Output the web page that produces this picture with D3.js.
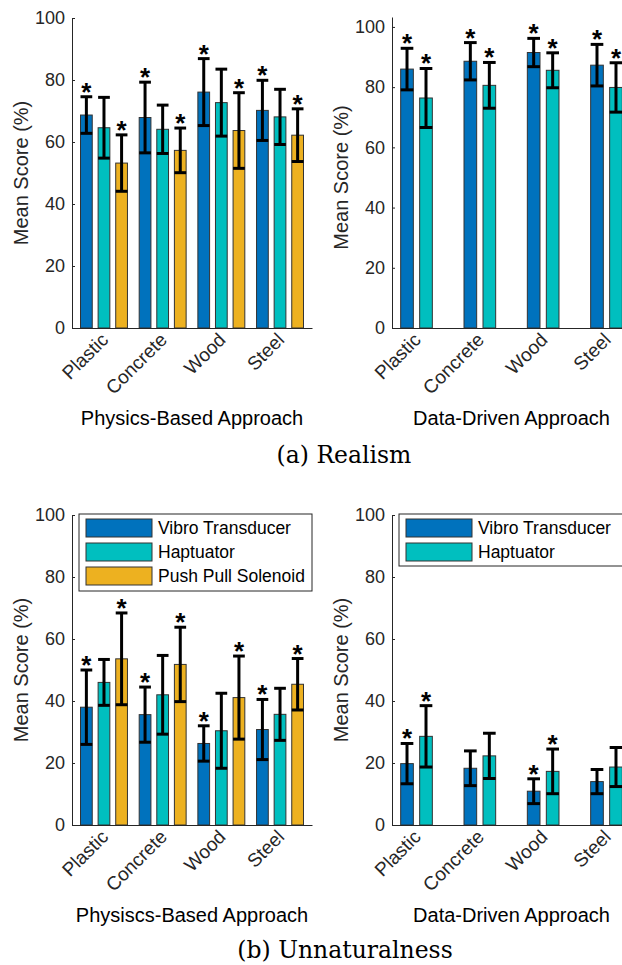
<!DOCTYPE html>
<html>
<head>
<meta charset="utf-8">
<script src="https://cdn.jsdelivr.net/npm/d3@7"></script>
<style>
  html, body { margin: 0; padding: 0; background: #fff; }
  svg { display: block; }
</style>
</head>
<body>
<svg id="chart" width="622" height="965"></svg>
<script>
// --- data ---
const materials = ['Plastic', 'Concrete', 'Wood', 'Steel'];
const devices = ['Vibro Transducer', 'Haptuator', 'Push Pull Solenoid'];
const deviceColors = ['#0072BD', '#00BFBF', '#EDB120'];
const yTicks = [0, 20, 40, 60, 80, 100];

// rows = material, cols = device
const realismPhysMean = [[68.7, 64.6, 53.2], [67.9, 64.1, 57.3], [76.1, 72.7, 63.7], [70.2, 68.1, 62.2]];
const realismPhysErr  = [[5.9, 9.8, 9.1], [11.4, 7.8, 7.2], [10.8, 10.8, 12.2], [9.7, 8.9, 8.5]];
const realismPhysSig  = [[1, 0, 1], [1, 0, 1], [1, 0, 1], [1, 0, 1]];

const realismDataMean = [[86.0, 76.4], [88.6, 80.6], [91.5, 85.6], [87.3, 79.9]];
const realismDataErr  = [[6.9, 9.8], [6.2, 7.6], [4.7, 5.8], [6.9, 8.2]];
const realismDataSig  = [[1, 1], [1, 1], [1, 1], [1, 1]];

const unnatPhysMean = [[38.0, 46.0, 53.6], [35.6, 42.0, 51.8], [26.3, 30.4, 41.1], [30.8, 35.7, 45.4]];
const unnatPhysErr  = [[12.0, 7.4, 14.8], [8.9, 12.7, 12.0], [5.7, 12.1, 13.4], [9.7, 8.4, 8.3]];
const unnatPhysSig  = [[1, 0, 1], [1, 0, 1], [1, 0, 1], [1, 0, 1]];

const unnatDataMean = [[19.8, 28.6], [18.3, 22.3], [10.9, 17.3], [14.0, 18.7]];
const unnatDataErr  = [[6.5, 9.9], [5.6, 7.3], [4.0, 7.2], [3.9, 6.3]];
const unnatDataSig  = [[1, 1], [0, 0], [1, 1], [0, 0]];

// --- layout ---
const svg = d3.select('#chart');
const AXIS_COLOR = '#262626';
const SANS = '"Liberation Sans", Arial, Helvetica, sans-serif';

const panels = [
  { x0: 72, x1: 312, yBot: 328, yTop: 18, yMax: 100, xDom: [0.455, 4.545],
    mean: realismPhysMean, err: realismPhysErr, sig: realismPhysSig, xlabel: 'Physics-Based Approach', legend: false },
  { x0: 392, x1: 631, yBot: 328, yTop: 17, yMax: 103.3, xDom: [0.613, 4.387],
    mean: realismDataMean, err: realismDataErr, sig: realismDataSig, xlabel: 'Data-Driven Approach', legend: false },
  { x0: 72, x1: 312, yBot: 825, yTop: 515, yMax: 100, xDom: [0.455, 4.545],
    mean: unnatPhysMean, err: unnatPhysErr, sig: unnatPhysSig, xlabel: 'Physiscs-Based Approach', legend: true },
  { x0: 392, x1: 631, yBot: 825, yTop: 515, yMax: 100, xDom: [0.613, 4.387],
    mean: unnatDataMean, err: unnatDataErr, sig: unnatDataSig, xlabel: 'Data-Driven Approach', legend: true }
];

function drawPanel(p) {
  const nSeries = p.mean[0].length;
  const x = d3.scaleLinear().domain(p.xDom).range([p.x0, p.x1]);
  const y = d3.scaleLinear().domain([0, p.yMax]).range([p.yBot, p.yTop]);
  const barW = 0.2;
  const step = 0.3;
  const offs = d3.range(nSeries).map(i => (i - (nSeries - 1) / 2) * step);

  const g = svg.append('g');

  // bars
  materials.forEach((m, mi) => {
    for (let s = 0; s < nSeries; s++) {
      const cx = mi + 1 + offs[s];
      const v = p.mean[mi][s];
      g.append('rect')
        .attr('x', x(cx - barW / 2))
        .attr('y', y(v))
        .attr('width', x(cx + barW / 2) - x(cx - barW / 2))
        .attr('height', y(0) - y(v))
        .attr('fill', deviceColors[s])
        .attr('stroke', '#333')
        .attr('stroke-width', 1);
    }
  });

  // error bars and significance stars
  materials.forEach((m, mi) => {
    for (let s = 0; s < nSeries; s++) {
      const cx = mi + 1 + offs[s];
      const v = p.mean[mi][s], e = p.err[mi][s];
      const xl = x(cx - barW / 2), xr = x(cx + barW / 2), xc = x(cx);
      const eb = g.append('g').attr('stroke', '#000').attr('stroke-width', 3);
      eb.append('line').attr('x1', xc).attr('x2', xc).attr('y1', y(v - e)).attr('y2', y(v + e));
      eb.append('line').attr('x1', xl).attr('x2', xr).attr('y1', y(v + e)).attr('y2', y(v + e));
      eb.append('line').attr('x1', xl).attr('x2', xr).attr('y1', y(v - e)).attr('y2', y(v - e));
      if (p.sig[mi][s]) {
        g.append('text')
          .attr('x', xc)
          .attr('y', y(v + e) + 4)
          .attr('text-anchor', 'middle')
          .attr('font-family', SANS)
          .attr('font-weight', 'bold')
          .attr('font-size', 26)
          .attr('fill', '#000')
          .text('*');
      }
    }
  });

  // y axis (MATLAB style, ticks inward)
  const yAxis = d3.axisLeft(y).tickValues(yTicks).tickSizeInner(-3).tickSizeOuter(0).tickPadding(7);
  const ya = g.append('g').attr('transform', `translate(${p.x0},0)`).call(yAxis);
  ya.select('.domain').attr('stroke', AXIS_COLOR);
  ya.selectAll('.tick line').attr('stroke', AXIS_COLOR);
  ya.selectAll('.tick text').attr('font-family', SANS).attr('font-size', 18).attr('fill', AXIS_COLOR);

  // x axis with rotated labels
  const xAxis = d3.axisBottom(x).tickValues([1, 2, 3, 4]).tickFormat((d, i) => materials[i])
    .tickSizeInner(-3).tickSizeOuter(0).tickPadding(0);
  const xa = g.append('g').attr('transform', `translate(0,${p.yBot})`).call(xAxis);
  xa.select('.domain').attr('stroke', AXIS_COLOR);
  xa.selectAll('.tick line').attr('stroke', 'none');
  xa.selectAll('.tick text')
    .attr('font-family', SANS).attr('font-size', 19).attr('fill', AXIS_COLOR)
    .attr('dy', null).attr('y', null)
    .attr('text-anchor', 'end')
    .attr('transform', 'translate(5,13) rotate(-45)');

  // axis titles
  g.append('text')
    .attr('transform', `translate(${p.x0 - 44},${(p.yTop + p.yBot) / 2 + (p.yMax > 100 ? 5 : 0)}) rotate(-90)`)
    .attr('text-anchor', 'middle')
    .attr('font-family', SANS).attr('font-size', 20).attr('fill', AXIS_COLOR)
    .text('Mean Score (%)');
  g.append('text')
    .attr('x', (p.x0 + p.x1) / 2)
    .attr('y', p.yBot + 97)
    .attr('text-anchor', 'middle')
    .attr('font-family', SANS).attr('font-size', 20).attr('fill', '#000')
    .text(p.xlabel);

  // legend
  if (p.legend) {
    const lx = p.x0 + 7, ly = p.yTop - 1;
    const lw = nSeries === 3 ? 233 : 240;
    const lh = nSeries === 3 ? 77 : 52;
    const lg = g.append('g');
    lg.append('rect').attr('x', lx).attr('y', ly).attr('width', lw).attr('height', lh)
      .attr('fill', '#fff').attr('stroke', AXIS_COLOR).attr('stroke-width', 1);
    for (let s = 0; s < nSeries; s++) {
      lg.append('rect').attr('x', lx + 7).attr('y', ly + 5 + s * 24).attr('width', 66).attr('height', 18)
        .attr('fill', deviceColors[s]).attr('stroke', '#333').attr('stroke-width', 1);
      lg.append('text').attr('x', lx + 79).attr('y', ly + 20 + s * 24)
        .attr('font-family', SANS).attr('font-size', 17.5).attr('fill', '#000')
        .text(devices[s]);
    }
  }
}

panels.forEach(drawPanel);

// sub-figure captions
const SERIF = '"DejaVu Serif", "Liberation Serif", serif';
svg.append('text').attr('x', 344).attr('y', 463).attr('text-anchor', 'middle')
  .attr('font-family', SERIF).attr('font-size', 23.5).attr('fill', '#000').text('(a) Realism');
svg.append('text').attr('x', 345).attr('y', 958).attr('text-anchor', 'middle')
  .attr('font-family', SERIF).attr('font-size', 23.5).attr('fill', '#000').text('(b) Unnaturalness');
</script>
</body>
</html>
